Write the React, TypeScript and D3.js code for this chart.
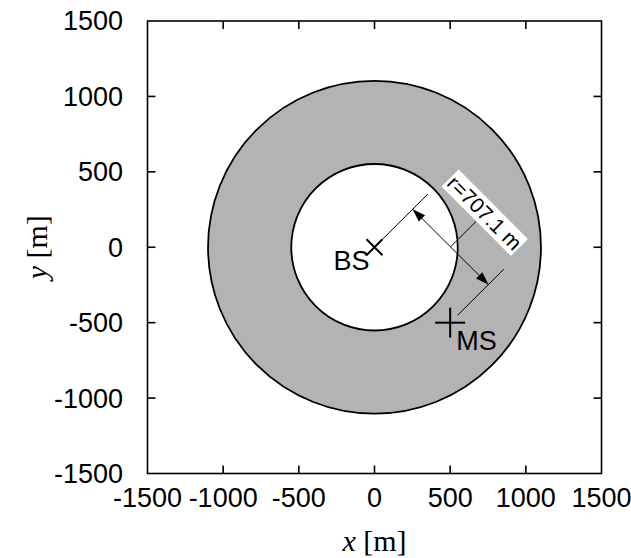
import React from "react";
import * as d3 from "d3";

const xTicks = [-1500, -1000, -500, 0, 500, 1000, 1500];
const yTicks = [-1500, -1000, -500, 0, 500, 1000, 1500];
const ringRadii = [1100, 550]; // outer, inner (m)
const ringFills = ["#b3b3b3", "#ffffff"];
const stationNames = ["BS", "MS"];
const stationX = [0, 500];
const stationY = [0, -500];
const distanceLabel = "r=707.1 m";

const W = 631, H = 558;
const L = 147.5, R = 601.5, T = 21, B = 473.5;

export default function App() {
  const x = d3.scaleLinear().domain([-1500, 1500]).range([L, R]);
  const y = d3.scaleLinear().domain([-1500, 1500]).range([B, T]);
  const rpx = (r: number) => x(r) - x(0);

  const s2 = Math.SQRT1_2;
  const nx = s2, ny = s2;
  const P = (px: number, py: number, off: number) => [x(px + nx * off), y(py + ny * off)];

  const [bx, by] = [stationX[0], stationY[0]];
  const [mx, my] = [stationX[1], stationY[1]];
  const dimOff = 357;
  const a1 = P(bx, by, dimOff);
  const a2 = P(mx, my, dimOff);
  const midX = (bx + mx) / 2, midY = (by + my) / 2;
  const mid = P(midX, midY, dimOff);
  const leaderEnd = P(midX, midY, dimOff + 238);
  const labelC = P(midX, midY, dimOff + 320);

  const arrowHead = (tip: number[], from: number[]) => {
    const dx = tip[0] - from[0], dy = tip[1] - from[1];
    const len = Math.hypot(dx, dy);
    const ux = dx / len, uy = dy / len;
    const hl = 13, hw = 4.5;
    const bxp = tip[0] - ux * hl, byp = tip[1] - uy * hl;
    return `${tip[0]},${tip[1]} ${bxp - uy * hw},${byp + ux * hw} ${bxp + uy * hw},${byp - ux * hw}`;
  };

  const tickLen = 8;
  const sans = "'Liberation Sans', Arial, sans-serif";
  const serif = "'Liberation Serif', 'Times New Roman', serif";

  const e1s = P(bx, by, 0), e1e = P(bx, by, 500);
  const e2s = P(mx, my, 70), e2e = P(mx, my, 500);

  return (
    <svg width={W} height={H} style={{ position: "absolute", left: 0, top: 0, background: "#fff" }}>
      {ringRadii.map((r, i) => (
        <circle key={i} cx={x(0)} cy={y(0)} r={rpx(r)} fill={ringFills[i]} stroke="#000" strokeWidth={1.8} />
      ))}

      <g stroke="#000" strokeWidth={1}>
        <line x1={e1s[0]} y1={e1s[1]} x2={e1e[0]} y2={e1e[1]} />
        <line x1={e2s[0]} y1={e2s[1]} x2={e2e[0]} y2={e2e[1]} />
        <line x1={a1[0]} y1={a1[1]} x2={a2[0]} y2={a2[1]} />
        <line x1={mid[0]} y1={mid[1]} x2={leaderEnd[0]} y2={leaderEnd[1]} />
      </g>
      <polygon points={arrowHead(a1, a2)} fill="#000" />
      <polygon points={arrowHead(a2, a1)} fill="#000" />

      <g transform={`translate(${labelC[0]},${labelC[1]}) rotate(45)`}>
        <rect x={-49} y={-12} width={98} height={24} fill="#fff" />
        <text x={0} y={0} dy="0.36em" textAnchor="middle" fontFamily={sans} fontSize={21}>
          {distanceLabel}
        </text>
      </g>

      <g stroke="#000" strokeWidth={2}>
        <line x1={x(bx) - 8} y1={y(by) - 8} x2={x(bx) + 8} y2={y(by) + 8} />
        <line x1={x(bx) - 8} y1={y(by) + 8} x2={x(bx) + 8} y2={y(by) - 8} />
        <line x1={x(mx) - 15} y1={y(my)} x2={x(mx) + 15} y2={y(my)} />
        <line x1={x(mx)} y1={y(my) - 15} x2={x(mx)} y2={y(my) + 15} />
      </g>
      <text x={x(bx) - 5} y={y(by) + 23} textAnchor="end" fontFamily={sans} fontSize={27}>
        {stationNames[0]}
      </text>
      <text x={x(mx) + 6} y={y(my) + 27} textAnchor="start" fontFamily={sans} fontSize={27}>
        {stationNames[1]}
      </text>

      <rect x={L} y={T} width={R - L} height={B - T} fill="none" stroke="#000" strokeWidth={1.6} />
      <g stroke="#000" strokeWidth={1.6}>
        {xTicks.slice(1, -1).map((t) => (
          <g key={"x" + t}>
            <line x1={x(t)} y1={B} x2={x(t)} y2={B - tickLen} />
            <line x1={x(t)} y1={T} x2={x(t)} y2={T + tickLen} />
          </g>
        ))}
        {yTicks.slice(1, -1).map((t) => (
          <g key={"y" + t}>
            <line x1={L} y1={y(t)} x2={L + tickLen} y2={y(t)} />
            <line x1={R} y1={y(t)} x2={R - tickLen} y2={y(t)} />
          </g>
        ))}
      </g>
      {xTicks.map((t) => (
        <text key={"xl" + t} x={x(t)} y={507} textAnchor="middle" fontFamily={sans} fontSize={27}>
          {t}
        </text>
      ))}
      {yTicks.map((t) => (
        <text key={"yl" + t} x={123} y={y(t)} dy="0.35em" textAnchor="end" fontFamily={sans} fontSize={27}>
          {t}
        </text>
      ))}

      <text x={x(0)} y={551} textAnchor="middle" fontFamily={serif} fontSize={30}>
        <tspan fontStyle="italic">x</tspan> [m]
      </text>
      <text transform={`translate(47,${y(0)}) rotate(-90)`} textAnchor="middle" fontFamily={serif} fontSize={30}>
        <tspan fontStyle="italic">y</tspan> [m]
      </text>
    </svg>
  );
}
